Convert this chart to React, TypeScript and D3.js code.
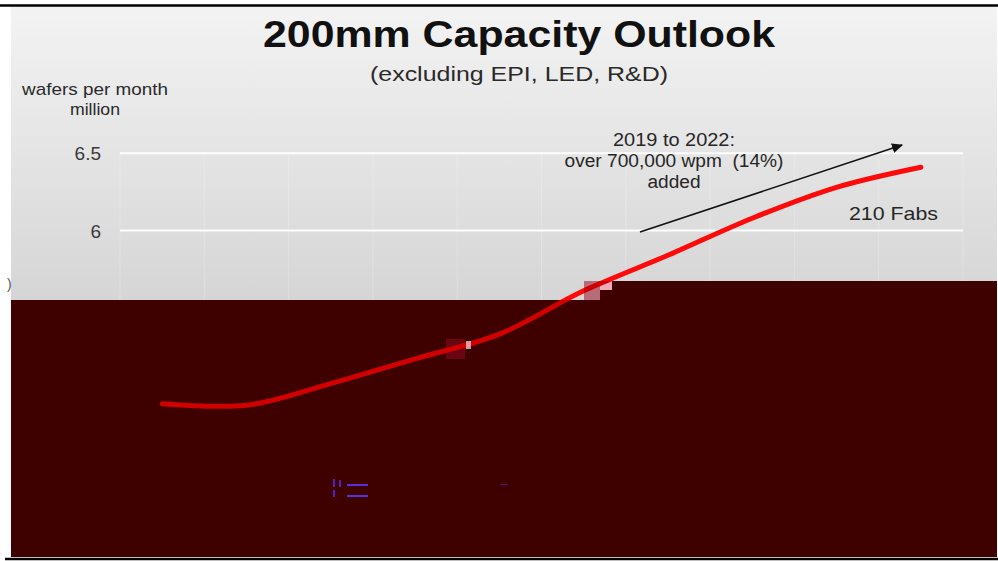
import { useEffect } from 'react';
import * as d3 from 'd3';

// categories (x labels sit under the dark block in the reference)
const years = ['2013', '2014', '2015', '2016', '2017', '2018', '2019', '2020', '2021', '2022'];
// 200mm capacity, million wafers per month
const capacity = [4.88, 4.87, 5.01, 5.17, 5.33, 5.61, 5.84, 6.08, 6.28, 6.41];
const yTicks = [4.5, 5, 5.5, 6, 6.5];
const yTickLabels = ['4.5', '5', '5.5', '6', '6.5'];
const noteLines = ['2019 to 2022:', 'over 700,000 wpm\u00a0 (14%)', 'added'];
const noteWidths = [122, 219, 53];

const W = 998;
const H = 561;
const font = '"Liberation Sans", Arial, Helvetica, sans-serif';

// occluding block drawn over the lower part of the slide
const darkPoly: [number, number][] = [
  [11, 300], [584, 300], [584, 281], [997, 281], [997, 557], [11, 557],
];

export default function App() {
  useEffect(() => {
    document.body.style.margin = '0';
  }, []);

  const x = d3.scaleBand<string>().domain(years).range([120, 963]);
  const y = d3.scaleLinear().domain([4.5, 6.5]).range([462.4, 153.3]);

  const line = d3
    .line<number>()
    .x((_, i) => (x(years[i]) ?? 0) + x.bandwidth() / 2)
    .y((d) => y(d))
    .curve(d3.curveCatmullRom.alpha(0.5));
  const path = line(capacity) ?? '';

  const polyD = 'M' + darkPoly.map((p) => p.join(',')).join('L') + 'Z';

  const vLines = [...years.map((d) => x(d) ?? 0), 963];

  return (
    <svg width={W} height={H} style={{ display: 'block' }} fontFamily={font}>
      <defs>
        <linearGradient id="bg" x1="0" y1="0" x2="0" y2="1">
          <stop offset="0%" stopColor="#f3f3f3" />
          <stop offset="52%" stopColor="#d6d6d6" />
          <stop offset="100%" stopColor="#c8c8c8" />
        </linearGradient>
        <clipPath id="darkClip">
          <path d={polyD} />
        </clipPath>
        <marker id="arrow" viewBox="0 0 10 10" refX="9" refY="5" markerWidth="7" markerHeight="7" orient="auto">
          <path d="M0,0.5 L10,5 L0,9.5 Z" fill="#111" />
        </marker>
      </defs>

      <rect x={0} y={0} width={W} height={H} fill="#fff" />
      <rect x={11} y={7} width={986} height={550} fill="url(#bg)" />
      <line x1={0} x2={998} y1={5.5} y2={5.5} stroke="#000" strokeWidth={2.5} />

      {/* vertical gridlines (faint) */}
      {vLines.map((vx, i) => (
        <line key={i} x1={vx} x2={vx} y1={153} y2={470} stroke="#ffffff" strokeOpacity={0.22} strokeWidth={1} />
      ))}
      {/* horizontal gridlines */}
      {yTicks.map((t) => (
        <line key={t} x1={120} x2={963} y1={y(t)} y2={y(t)} stroke="#ffffff" strokeWidth={2} strokeOpacity={0.95} />
      ))}
      {yTicks.map((t, i) => (
        <text key={t} x={101} y={y(t) + 7} textAnchor="end" fontSize={19} fill="#3a3a3a">
          {yTickLabels[i]}
        </text>
      ))}
      {years.map((d) => (
        <text key={d} x={(x(d) ?? 0) + x.bandwidth() / 2} y={495} textAnchor="middle" fontSize={17} fill="#3a3a3a">
          {d}
        </text>
      ))}

      {/* titles */}
      <text x={519} y={47} textAnchor="middle" fontSize={36} fontWeight="bold" fill="#111" textLength={512} lengthAdjust="spacingAndGlyphs">
        200mm Capacity Outlook
      </text>
      <text x={519} y={81} textAnchor="middle" fontSize={21} fill="#2a2a2a" textLength={298} lengthAdjust="spacingAndGlyphs">
        (excluding EPI, LED, R&amp;D)
      </text>
      <text x={95} y={95} textAnchor="middle" fontSize={17} fill="#2a2a2a" textLength={146} lengthAdjust="spacingAndGlyphs">
        wafers per month
      </text>
      <text x={95} y={115} textAnchor="middle" fontSize={17} fill="#2a2a2a" textLength={50} lengthAdjust="spacingAndGlyphs">
        million
      </text>
      <text x={7} y={289} fontSize={14} fill="#555">)</text>

      {/* annotation */}
      {noteLines.map((s, i) => (
        <text key={i} x={674} y={146 + i * 21} textAnchor="middle" fontSize={18} fill="#262626" textLength={noteWidths[i]} lengthAdjust="spacingAndGlyphs">
          {s}
        </text>
      ))}
      <line x1={640} y1={232} x2={902} y2={145} stroke="#111" strokeWidth={1.6} markerEnd="url(#arrow)" />
      <text x={849} y={220} fontSize={19} fill="#262626" textLength={89} lengthAdjust="spacingAndGlyphs">
        210 Fabs
      </text>

      {/* series */}
      <path d={path} fill="none" stroke="#ff0a0a" strokeWidth={5} strokeLinecap="round" />

      {/* occluding block and artifacts */}
      <path d={polyD} fill="#3f0000" />
      <rect x={584} y={281} width={16} height={19} fill="#b86c7a" />
      <rect x={600} y={281} width={12} height={9} fill="#f2a8b6" />
      <rect x={446} y={339} width={19} height={20} fill="#6a0612" />
      <g clipPath="url(#darkClip)">
        <path d={path} fill="none" stroke="#d00000" strokeWidth={5} strokeLinecap="round" />
      </g>
      <rect x={466} y={341} width={5} height={8} fill="#e9c0c6" opacity={0.8} />
      <rect x={333} y={479} width={2} height={8} fill="#4a22c8" />
      <rect x={333} y={490} width={2} height={7} fill="#4a22c8" />
      <rect x={339} y={480} width={2} height={7} fill="#4a22c8" />
      <rect x={347} y={484} width={21} height={2} fill="#5a2ae0" />
      <rect x={347} y={495} width={21} height={2} fill="#5a2ae0" />
      <rect x={500} y={484} width={8} height={1} fill="#4a22c8" opacity={0.6} />
      <line x1={5} x2={998} y1={559} y2={559} stroke="#000" strokeWidth={2.5} />
    </svg>
  );
}
